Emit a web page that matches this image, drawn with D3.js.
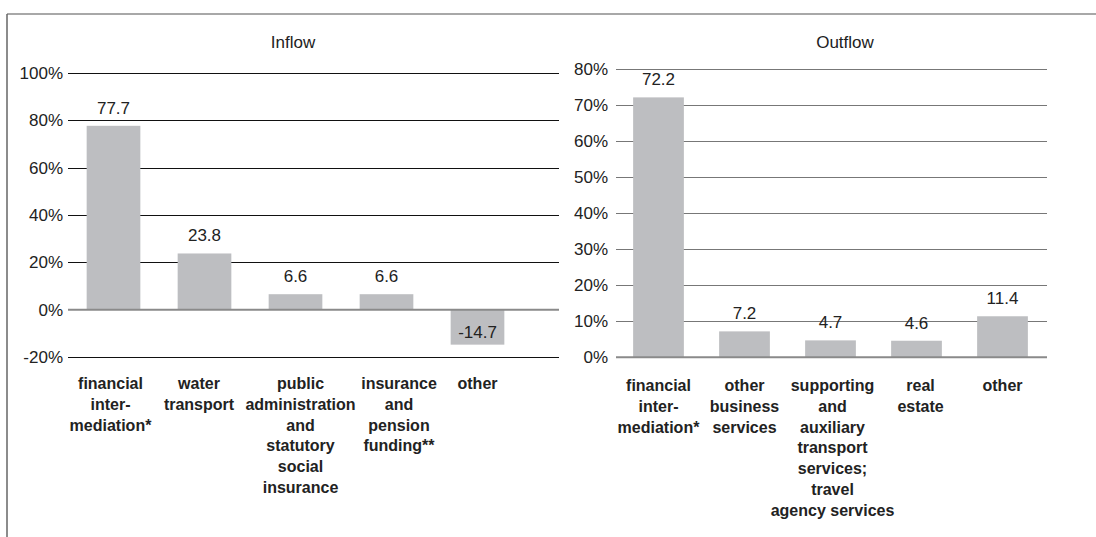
<!DOCTYPE html>
<html>
<head>
<meta charset="utf-8">
<script src="https://cdn.jsdelivr.net/npm/d3@7/dist/d3.min.js"></script>
<style>
  html, body { margin: 0; padding: 0; background: #fff; }
  svg { display: block; font-family: "Liberation Sans", Arial, Helvetica, sans-serif; }
</style>
</head>
<body>
<svg id="chart" width="1096" height="537"></svg>
<script>
// Inflow panel
const inflowCategories = [
  ["financial", "inter-", "mediation*"],
  ["water", "transport"],
  ["public", "administration", "and", "statutory", "social", "insurance"],
  ["insurance", "and", "pension", "funding**"],
  ["other"]
];
const inflowValues = [77.7, 23.8, 6.6, 6.6, -14.7];
const inflowTicks = [-20, 0, 20, 40, 60, 80, 100];

// Outflow panel
const outflowCategories = [
  ["financial", "inter-", "mediation*"],
  ["other", "business", "services"],
  ["supporting", "and", "auxiliary", "transport", "services;", "travel", "agency services"],
  ["real", "estate"],
  ["other"]
];
const outflowValues = [72.2, 7.2, 4.7, 4.6, 11.4];
const outflowTicks = [0, 10, 20, 30, 40, 50, 60, 70, 80];

const svg = d3.select("#chart");
const barColor = "#bdbec1";

// frame: top rule and left rule
svg.append("line").attr("x1", 7).attr("x2", 1096).attr("y1", 14).attr("y2", 14)
  .attr("stroke", "#a8a8a8").attr("stroke-width", 2);
svg.append("line").attr("x1", 7).attr("x2", 7).attr("y1", 14).attr("y2", 537)
  .attr("stroke", "#666").attr("stroke-width", 1.5);

function panel(cfg) {
  const g = svg.append("g");
  const y = d3.scaleLinear().domain(cfg.domain).range(cfg.yRange);
  const x = d3.scaleBand().domain(d3.range(cfg.values.length))
    .range(cfg.bandRange).paddingInner(0.41).paddingOuter(0.205);

  // title
  g.append("text").attr("x", cfg.titleX).attr("y", 48)
    .attr("text-anchor", "middle").attr("font-size", 17).attr("fill", "#222")
    .text(cfg.title);

  // gridlines
  g.selectAll(".grid").data(cfg.ticks.filter(t => t !== 0)).join("line")
    .attr("x1", cfg.gridX[0]).attr("x2", cfg.gridX[1])
    .attr("y1", d => Math.round(y(d)) + 0.5).attr("y2", d => Math.round(y(d)) + 0.5)
    .attr("stroke", cfg.gridColor).attr("stroke-width", 1);

  // tick labels via axis
  const axis = d3.axisLeft(y).tickValues(cfg.ticks).tickSize(0).tickPadding(0)
    .tickFormat(d => d + "%");
  const ag = g.append("g").attr("transform", `translate(${cfg.labelX},0)`).call(axis);
  ag.select(".domain").remove();
  ag.selectAll("text").attr("font-size", 17).attr("fill", "#222")
    .attr("font-family", "Liberation Sans, Arial, sans-serif");

  // bars
  g.selectAll(".bar").data(cfg.values).join("rect")
    .attr("x", (d, i) => x(i)).attr("width", x.bandwidth())
    .attr("y", d => y(Math.max(0, d)))
    .attr("height", d => Math.abs(y(d) - y(0)))
    .attr("fill", barColor);

  // zero line
  g.append("line").attr("x1", cfg.gridX[0]).attr("x2", cfg.gridX[1])
    .attr("y1", y(0)).attr("y2", y(0))
    .attr("stroke", "#8a8a8a").attr("stroke-width", 2);

  // value labels
  g.selectAll(".val").data(cfg.values).join("text")
    .attr("x", (d, i) => x(i) + x.bandwidth() / 2)
    .attr("y", d => d >= 0 ? y(d) - 12 : y(0) + 28)
    .attr("text-anchor", "middle").attr("font-size", 17).attr("fill", "#222")
    .text(d => d.toFixed(1));

  // category labels, nudged sideways so long words do not collide
  cfg.categories.forEach((lines, i) => {
    const cx = x(i) + x.bandwidth() / 2 + cfg.labelNudge[i];
    const t = g.append("text")
      .attr("text-anchor", "middle").attr("font-size", 16).attr("font-weight", "bold")
      .attr("fill", "#222");
    lines.forEach((ln, k) => {
      t.append("tspan").attr("x", cx)
        .attr("y", cfg.catY + k * 20.8).text(ln);
    });
  });
}

panel({
  title: "Inflow", titleX: 293,
  values: inflowValues, categories: inflowCategories, ticks: inflowTicks,
  domain: [-20, 100], yRange: [357.2, 73],
  bandRange: [68, 523], gridX: [68, 559], labelX: 63,
  gridColor: "#111", catY: 389, labelNudge: [-3, -5.5, 5, 12.5, 0]
});

panel({
  title: "Outflow", titleX: 845,
  values: outflowValues, categories: outflowCategories, ticks: outflowTicks,
  domain: [0, 80], yRange: [357.3, 69.3],
  bandRange: [615.5, 1045.5], gridX: [616, 1047], labelX: 608,
  gridColor: "#777", catY: 391, labelNudge: [0, 0, 2, 4, 0]
});
</script>
</body>
</html>
